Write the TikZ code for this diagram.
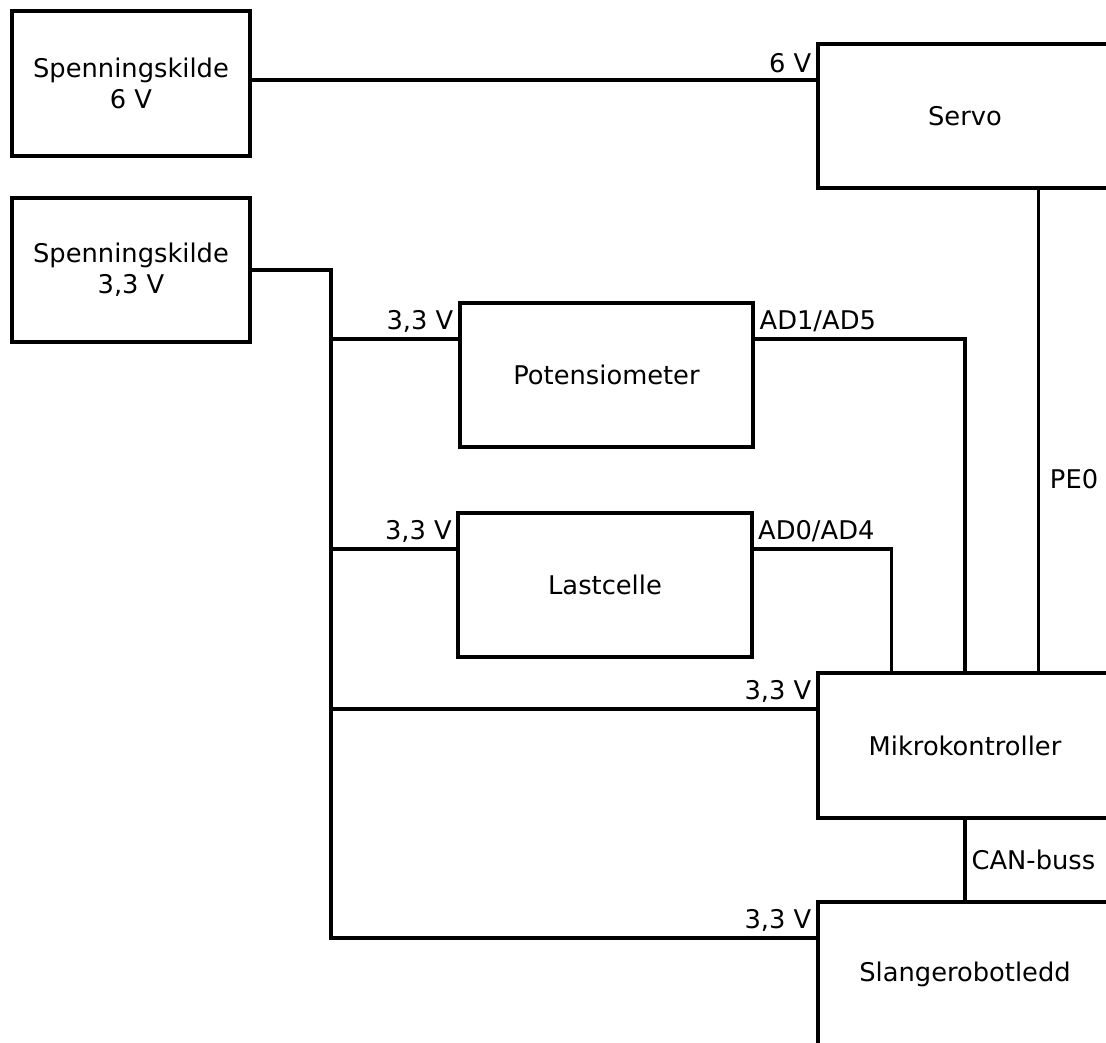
\documentclass[tikz,border=0pt]{standalone}
\usepackage{fontspec}
\setmainfont{DejaVu Sans}
\usepackage{tikz}
\usetikzlibrary{positioning,calc}

\begin{document}
\begin{tikzpicture}[x = 0.025cm, y = -0.025cm,
  every node/.style = {font = \fontsize{18.3}{22}\selectfont},
  box/.style = {draw, line width = 2.8pt, outer sep = 0pt, minimum width = 7.35cm,
    minimum height = 3.6cm, align = center},
  wire/.style = {line width = 2.8pt}]
  \useasboundingbox (0, 0) rectangle (1106, 1042);
  \clip (0, 0) rectangle (1106, 1042);

  \node[box, minimum width = 5.95cm, minimum height = 3.625cm] (Src6) at (131, 83.5)
    {Spenningskilde\\6 V};

  \node[box, minimum width = 5.95cm] (Src33) at (131, 270)
    {Spenningskilde\\3,3 V};

  \node[box] (Servo) at (965, 116)
    {Servo};

  \node[box, minimum width = 7.325cm] (Pot) at (606.5, 375)
    {Potensiometer};

  \node[box, minimum width = 7.325cm] (Last) at (605, 585)
    {Lastcelle};

  \node[box, minimum height = 3.625cm] (Mik) at (965, 745.5)
    {Mikrokontroller};

  \node[box] (Slange) at (965, 974)
    {Slangerobotledd};

  \coordinate (Bus) at (331, 0);
  \coordinate (ServoIn) at ([yshift = -0.9cm]Servo.north west);
  \coordinate (PotIn) at ([yshift = -0.9cm]Pot.north west);
  \coordinate (PotOut) at ([yshift = -0.9cm]Pot.north east);
  \coordinate (LastIn) at ([yshift = -0.9cm]Last.north west);
  \coordinate (LastOut) at ([yshift = -0.9cm]Last.north east);
  \coordinate (MikIn) at ([yshift = -0.9cm]Mik.north west);
  \coordinate (SlangeIn) at ([yshift = -0.9cm]Slange.north west);

  \draw[wire] (Src6.east |- ServoIn) -- (ServoIn) node[above left] {6 V};
  \draw[wire] (Src33.east) -| (Bus |- SlangeIn) -- (SlangeIn) node[above left] {3,3 V};
  \draw[wire] (Bus |- PotIn) -- (PotIn) node[above left] {3,3 V};
  \draw[wire] (Bus |- LastIn) -- (LastIn) node[above left] {3,3 V};
  \draw[wire] (Bus |- MikIn) -- (MikIn) node[above left] {3,3 V};
  \draw[wire] (PotOut) node[above right] {AD1/AD5} -| (Mik.north);
  \draw[wire] (LastOut) node[above right] {AD0/AD4} -| ($(Mik.north west)!0.5!(Mik.north)$);
  \draw[wire] ($(Servo.south)!0.5!(Servo.south east)$) -- ($(Mik.north)!0.5!(Mik.north east)$)
    node[pos = 0.6, right, xshift = 0.12cm] {PE0};
  \draw[wire] (Mik.south) -- (Slange.north) node[midway, right] {CAN-buss};
\end{tikzpicture}
\end{document}
